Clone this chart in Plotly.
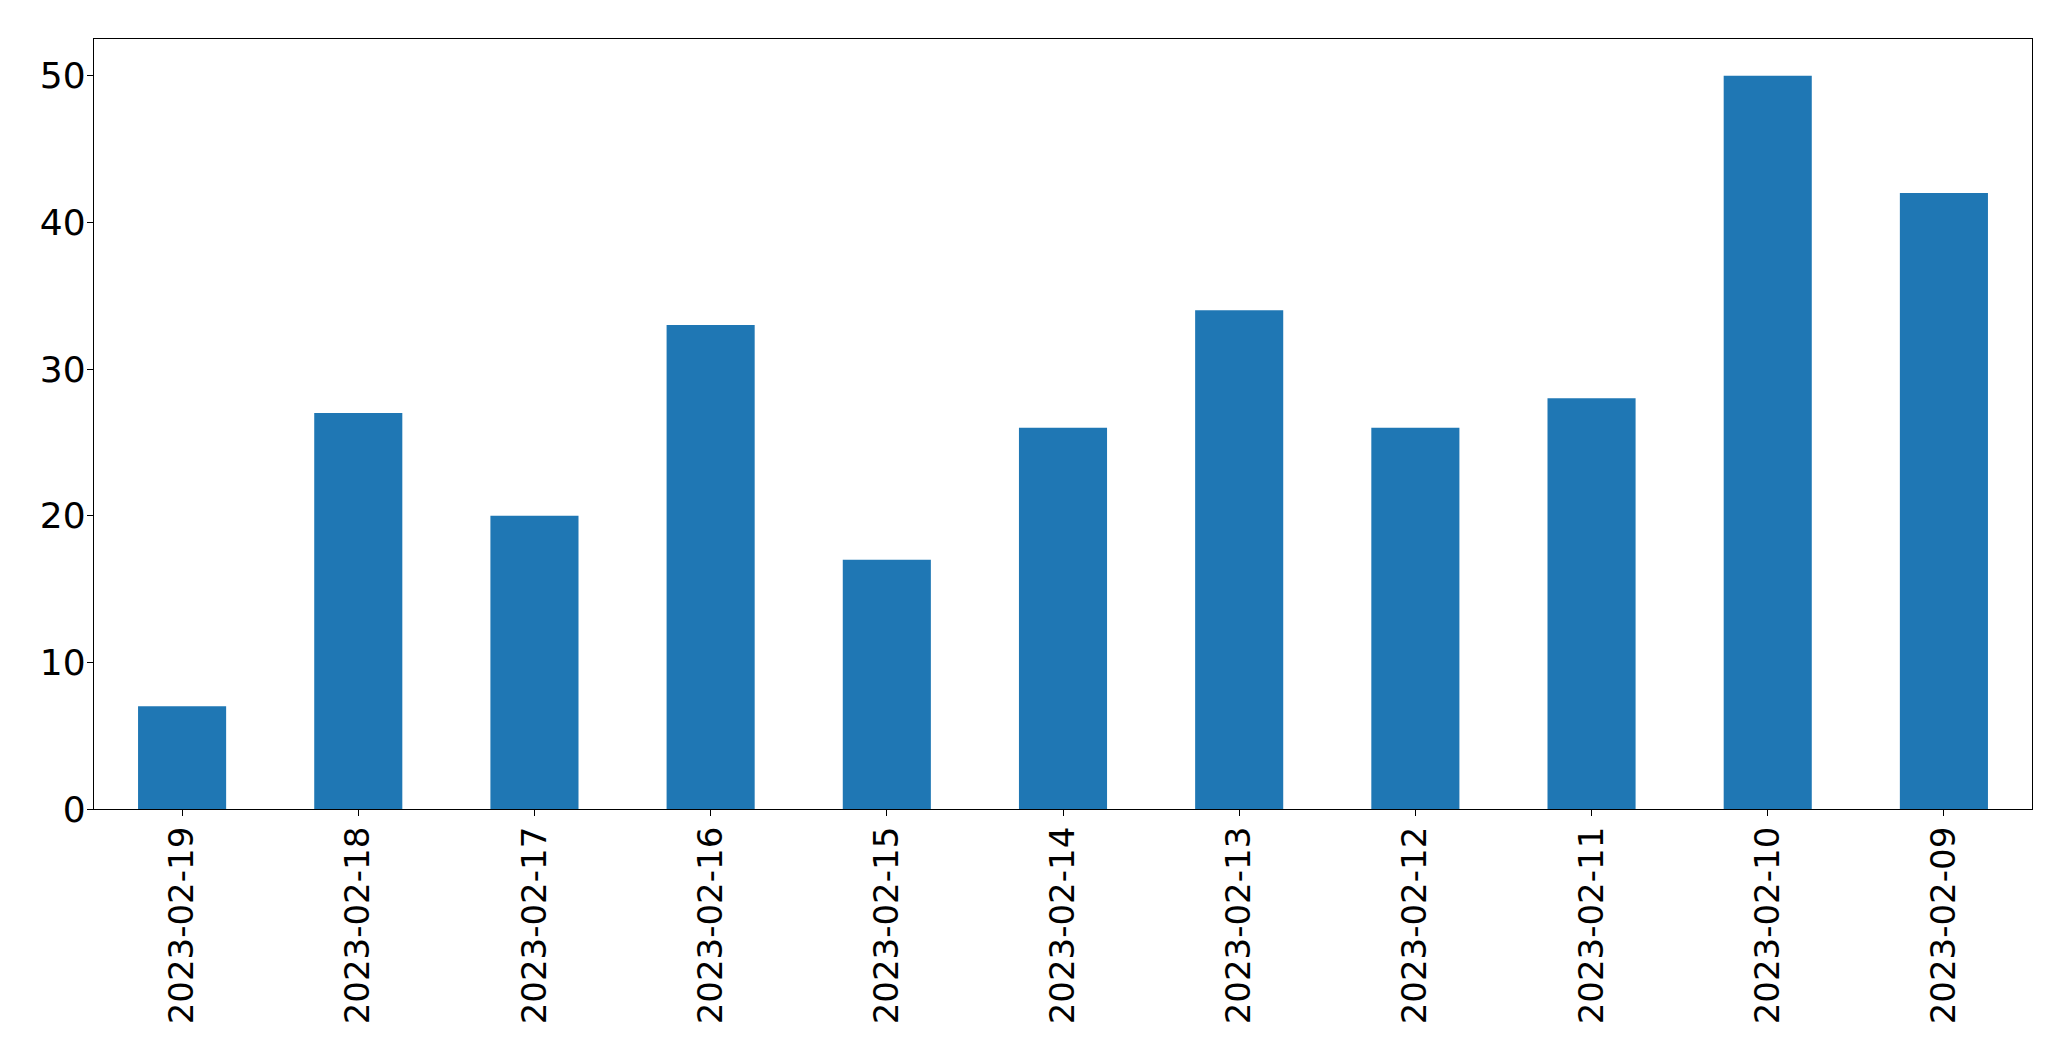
import plotly.graph_objects as go

dates = ["2023-02-19", "2023-02-18", "2023-02-17", "2023-02-16", "2023-02-15",
         "2023-02-14", "2023-02-13", "2023-02-12", "2023-02-11", "2023-02-10", "2023-02-09"]
counts = [7, 27, 20, 33, 17, 26, 34, 26, 28, 50, 42]
y_ticks = [0, 10, 20, 30, 40, 50]

fig = go.Figure(go.Bar(x=dates, y=counts, width=0.5, marker=dict(color="#1f77b4", line=dict(width=0))))

# page body has an 8px default margin; compensate so the plot area lands where the reference has it
fig.update_layout(
    width=2063, height=1053,
    margin=dict(l=86, r=39, t=31, b=252),
    paper_bgcolor="white", plot_bgcolor="white",
    font=dict(family="DejaVu Sans", size=35, color="black"),
    showlegend=False,
    bargap=0.5,
)
fig.update_xaxes(type="category", range=[-0.5, 10.5], tickangle=-90,
                 tickfont=dict(size=34), ticklabelstandoff=-3,
                 showline=True, linecolor="black", linewidth=1.3, mirror=True,
                 ticks="outside", ticklen=6, tickwidth=1.3, tickcolor="black",
                 showgrid=False, zeroline=False)
fig.update_yaxes(range=[0, 52.5], tickvals=y_ticks,
                 tickfont=dict(size=36), ticklabelstandoff=-6,
                 showline=True, linecolor="black", linewidth=1.3, mirror=True,
                 ticks="outside", ticklen=6, tickwidth=1.3, tickcolor="black",
                 showgrid=False, zeroline=False)

fig.write_html("out.html")
